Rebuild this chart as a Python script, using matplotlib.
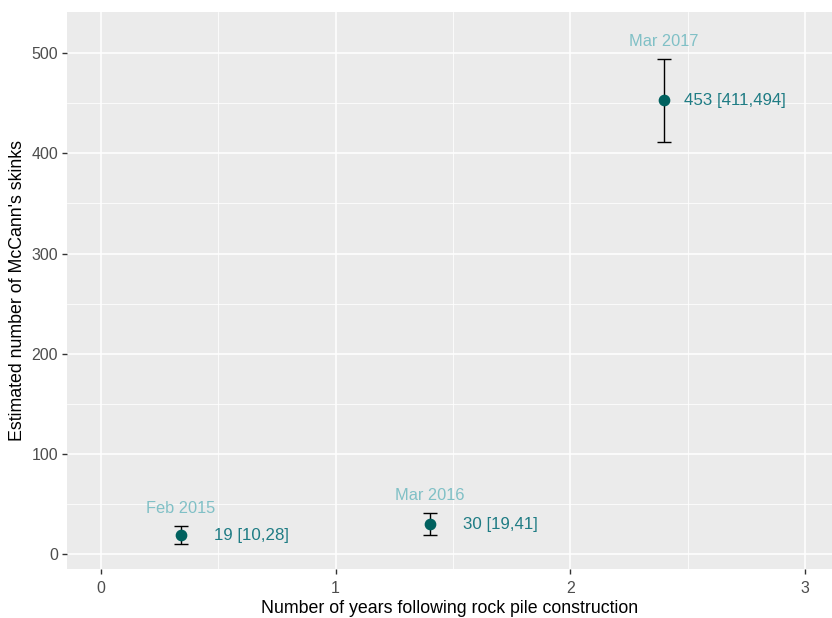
import numpy as np
import matplotlib.pyplot as plt
from matplotlib.ticker import MultipleLocator

plt.rcParams['font.family'] = ['Liberation Sans', 'DejaVu Sans']

# survey estimates of skink abundance
years = [0.34, 1.40, 2.40]
surveys = ['Feb 2015', 'Mar 2016', 'Mar 2017']
estimate = [19, 30, 453]
lower = [10, 19, 411]
upper = [28, 41, 494]

pt_col = '#00615f'
lab_col = '#1f7c84'
date_col = '#80c0c6'

fig = plt.figure(figsize=(8.32, 6.18), dpi=100)
ax = fig.add_axes([0.0805, 0.0793, 0.9195, 0.9013])
ax.set_facecolor('#ebebeb')

est = np.array(estimate)
yerr = [est - np.array(lower), np.array(upper) - est]
ax.errorbar(years, estimate, yerr=yerr, fmt='none', ecolor='black',
            elinewidth=1.0, capsize=5, capthick=1.0, zorder=3)
ax.scatter(years, estimate, s=55, color=pt_col, zorder=4)

for x, e, lo, hi, s in zip(years, estimate, lower, upper, surveys):
    ax.text(x + 0.3, e, f'{e} [{lo},{hi}]', color=lab_col, fontsize=12.2,
            ha='center', va='center', zorder=5)
    ax.text(x, hi + 18, s, color=date_col, fontsize=11.8,
            ha='center', va='center', zorder=5)

ax.set_xlim(-0.145, 3.115)
ax.set_ylim(-14.6, 541)
ax.xaxis.set_major_locator(MultipleLocator(1))
ax.xaxis.set_minor_locator(MultipleLocator(0.5))
ax.yaxis.set_major_locator(MultipleLocator(100))
ax.yaxis.set_minor_locator(MultipleLocator(50))

ax.grid(which='major', color='white', linewidth=1.1)
ax.grid(which='minor', color='white', linewidth=0.55)
ax.set_axisbelow(True)
for sp in ax.spines.values():
    sp.set_visible(False)

ax.tick_params(which='major', length=3.5, width=1, color='#333333',
               labelcolor='#4d4d4d', labelsize=11.5, pad=3)
ax.tick_params(axis='x', which='major', pad=5)
ax.tick_params(which='minor', length=0)

ax.set_xlabel('Number of years following rock pile construction',
              fontsize=12.8, labelpad=3)
ax.set_ylabel("Estimated number of McCann's skinks", fontsize=12.8,
              labelpad=4)

fig.savefig('out.png', dpi=100)
